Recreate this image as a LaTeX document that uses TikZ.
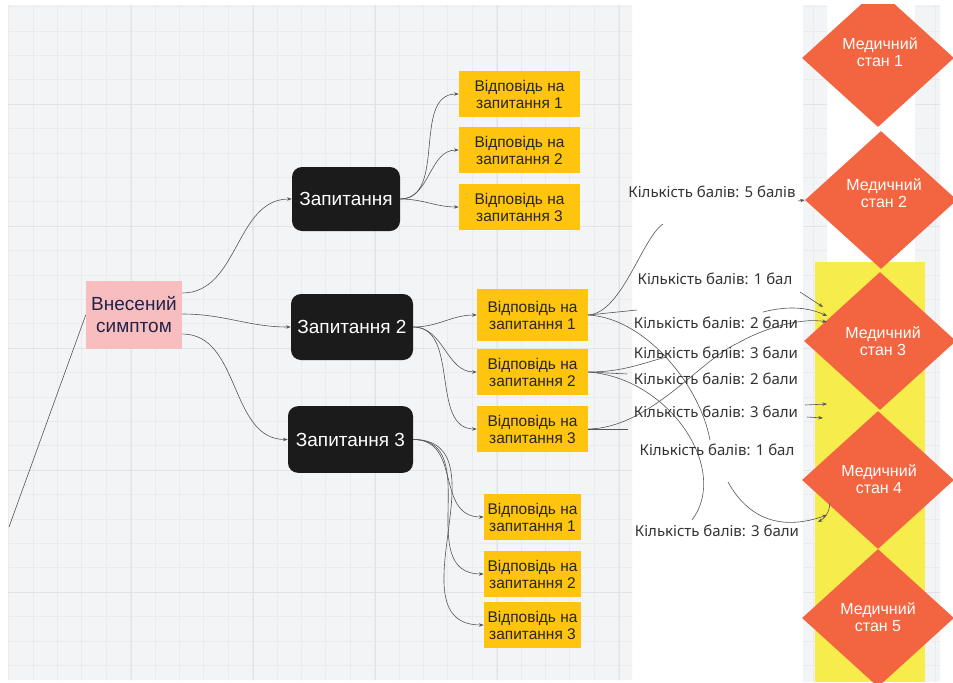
\documentclass[tikz,border=0pt]{standalone}
\usepackage{fontspec}
\setmainfont{Liberation Sans}
\newfontfamily\labelfont{Noto Sans}
\usetikzlibrary{shapes.geometric,arrows.meta,calc}
\definecolor{gridbg}{HTML}{F3F4F6}
\definecolor{gridmin}{HTML}{EAEBED}
\definecolor{gridmaj}{HTML}{E2E3E6}
\definecolor{qblack}{HTML}{1B1B1B}
\definecolor{ayellow}{HTML}{FEC40E}
\definecolor{spink}{HTML}{F8BEBF}
\definecolor{snavy}{HTML}{22224A}
\definecolor{dorange}{HTML}{F26540}
\definecolor{barYellow}{HTML}{F6EC4C}
\definecolor{edgegray}{HTML}{555555}
\definecolor{labgray}{HTML}{333333}
\tikzset{
  qbox/.style={fill=qblack, rounded corners=7.5pt, text=white, font=\fontsize{14.25}{16.5}\selectfont, inner sep=0pt, align=center},
  abox/.style={fill=ayellow, text=black!85, font=\fontsize{11.6}{12.75}\selectfont, align=center, inner sep=0pt, minimum height=34.5pt},
  dia/.style={diamond, fill=dorange, inner sep=0pt, minimum width=114pt, minimum height=103.5pt},
  diatext/.style={text=white, inner sep=0pt, align=center, font=\fontsize{12}{12.75}\selectfont},
  lab/.style={font=\labelfont\fontsize{11.25}{13}\selectfont, text=labgray, inner sep=0pt},
  edge/.style={draw=edgegray, line width=0.45pt, -{Stealth[length=3.5pt,width=2.6pt]}},
  plainline/.style={draw=edgegray, line width=0.45pt},
}
\begin{document}
\begin{tikzpicture}[x=0.75pt,y=-0.75pt]
\useasboundingbox (0,0) rectangle (953,682);
\fill[white] (0,0) rectangle (953,682);
% grid areas
\begin{scope}
  \clip (8,5) rectangle (632,680) (803,5) rectangle (827,682) (915,5) rectangle (940,682);
  \fill[gridbg] (0,0) rectangle (953,682);
  \foreach \i in {0,...,38} {
    \draw[gridmin, line width=0.5pt] (8.6+24.4*\i,0) -- (8.6+24.4*\i,682);
  }
  \foreach \i in {0,...,28} {
    \draw[gridmin, line width=0.5pt] (0,6.6+24.4*\i) -- (953,6.6+24.4*\i);
  }
  \foreach \i in {0,...,7} {
    \draw[gridmaj, line width=0.7pt] (131+122*\i,0) -- (131+122*\i,682);
  }
  \foreach \i in {0,...,5} {
    \draw[gridmaj, line width=0.7pt] (0,104+122*\i) -- (953,104+122*\i);
  }
\end{scope}
% yellow bar
\fill[fill=barYellow] (815,262) rectangle (925,682);
% diamonds
\begin{scope}
  \clip (0,4) rectangle (953,682);
  \node[dia] (d1) at (878,58) {};
  \node[dia] (d2) at (881,200) {};
  \node[dia] (d3) at (880,341) {};
  \node[dia] (d4) at (878,480) {};
  \node[dia] (d5) at (878,618) {};
\end{scope}
\node[diatext] (t1) at (880,52) {Медичний\\стан 1};
\node[diatext] (t2) at (884,193) {Медичний\\стан 2};
\node[diatext] (t3) at (883,341) {Медичний\\стан 3};
\node[diatext] (t4) at (879,479) {Медичний\\стан 4};
\node[diatext] (t5) at (878,617) {Медичний\\стан 5};
% main nodes
\node[fill=spink, text=snavy, minimum width=72pt, minimum height=51pt, inner sep=0pt, align=center, font=\fontsize{14.25}{16.5}\selectfont] (s) at (134,315) {Внесений\\симптом};
\node[qbox, minimum width=81pt, minimum height=48pt] (q1) at (346,199) {Запитання};
\node[qbox, minimum width=91.5pt, minimum height=49.5pt] (q2) at (352,327) {Запитання 2};
\node[qbox, minimum width=93.75pt, minimum height=50pt] (q3) at (350.5,439.5) {Запитання 3};
\node[abox, minimum width=90.75pt] (a11) at (519.5,94) {Відповідь на\\запитання 1};
\node[abox, minimum width=90.75pt] (a12) at (519.5,150) {Відповідь на\\запитання 2};
\node[abox, minimum width=90.75pt] (a13) at (519.5,207) {Відповідь на\\запитання 3};
\node[abox, minimum width=83.25pt, minimum height=39pt] (a21) at (532.5,315) {Відповідь на\\запитання 1};
\node[abox, minimum width=83.25pt] (a22) at (532.5,372) {Відповідь на\\запитання 2};
\node[abox, minimum width=83.25pt] (a23) at (532.5,429) {Відповідь на\\запитання 3};
\node[abox, minimum width=72.75pt] (a31) at (532.5,517) {Відповідь на\\запитання 1};
\node[abox, minimum width=72.75pt] (a32) at (532.5,574) {Відповідь на\\запитання 2};
\node[abox, minimum width=72.75pt] (a33) at (532.5,625) {Відповідь на\\запитання 3};
% main edges
\coordinate (tail) at (9,527);
\draw[plainline] (s.west) -- (tail);
\draw[edge] ($(s.east)+(0,-22)$) to[out=0,in=180] (q1.west);
\draw[edge] ($(s.east)+(0,-1)$) to[out=0,in=180] (q2.west);
\draw[edge] ($(s.east)+(0,19)$) to[out=0,in=180] (q3.west);
\foreach \a in {a11,a12,a13} \draw[edge] (q1.east) to[out=0,in=180] (\a.west);
\foreach \a in {a21,a22,a23} \draw[edge] (q2.east) to[out=0,in=180] (\a.west);
\foreach \a in {a31,a32,a33} \draw[edge] (q3.east) to[out=0,in=180,looseness=1.2] (\a.west);
% messy right-hand connectors
\coordinate (f1) at (663,224);
\coordinate (f2) at (637,310);
\coordinate (f3) at (710,440);
\coordinate (f4) at (627,374);
\coordinate (f5) at (667,357);
\coordinate (f6) at (692,520);
\coordinate (f7) at (628,429);
\coordinate (e3) at (827,322);
\coordinate (g1) at (800,292);
\coordinate (h1) at (823,307);
\coordinate (g2) at (763,312);
\coordinate (h2) at (827,316);
\coordinate (g3) at (798,201);
\coordinate (g4) at (805,405);
\coordinate (h4) at (827,404);
\coordinate (g5) at (807,417);
\coordinate (h5) at (823,418);
\coordinate (g6) at (728,482);
\coordinate (h6) at (827,515);
\coordinate (g7) at (830,503);
\coordinate (h7) at (818,522);
\draw[plainline] (a21.east) .. controls (622,313) and (642,238) .. (f1);
\draw[plainline] (a21.east) -- (f2);
\draw[plainline] (a21.east) .. controls (645,318) and (700,385) .. (f3);
\draw[plainline] (a22.east) -- (f4);
\draw[plainline] (a22.east) .. controls (625,372) and (645,362) .. (f5);
\draw[plainline] (a22.east) .. controls (670,378) and (730,470) .. (f6);
\draw[plainline] (a23.east) -- (f7);
\draw[edge] (a23.east) .. controls (650,428) and (700,360) .. (738,343) .. controls (770,325) and (805,318) .. (e3);
\draw[edge] (g1) -- (h1);
\draw[edge] (g2) .. controls (790,305) and (810,308) .. (h2);
\draw[edge] (g3) -- (d2.west);
\draw[edge] (g4) -- (h4);
\draw[edge] (g5) -- (h5);
\draw[edge] (g6) .. controls (750,522) and (785,530) .. (h6);
\draw[edge] (g7) .. controls (829,513) and (825,518) .. (h7);
% labels
\node[lab] (l1) at (712,192) {Кількість балів: 5 балів};
\node[lab] (l2) at (715,279) {Кількість балів: 1 бал};
\node[lab] (l3) at (716,323) {Кількість балів: 2 бали};
\node[lab] (l4) at (716,353) {Кількість балів: 3 бали};
\node[lab] (l5) at (716,379) {Кількість балів: 2 бали};
\node[lab] (l6) at (716,412) {Кількість балів: 3 бали};
\node[lab] (l7) at (717,450) {Кількість балів: 1 бал};
\node[lab] (l8) at (717,531) {Кількість балів: 3 бали};
\end{tikzpicture}
\end{document}
